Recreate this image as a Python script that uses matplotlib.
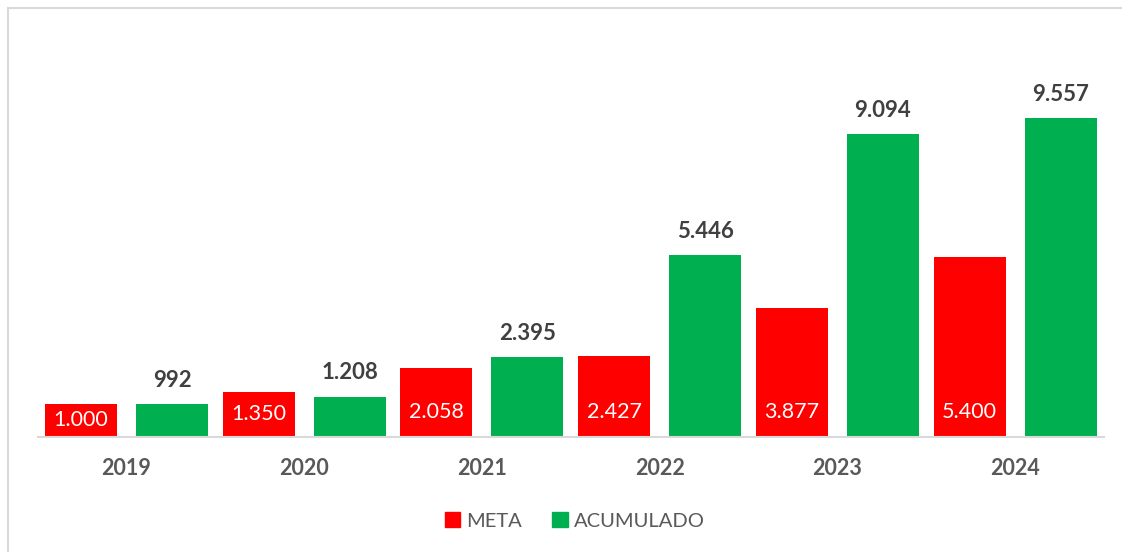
import matplotlib.pyplot as plt
from matplotlib.lines import Line2D
from matplotlib.patches import Patch
import numpy as np

plt.rcParams["font.family"] = ["Lato", "DejaVu Sans"]

# data
years = ["2019", "2020", "2021", "2022", "2023", "2024"]
meta = [1000, 1350, 2058, 2427, 3877, 5400]
acumulado = [992, 1208, 2395, 5446, 9094, 9557]

red = "#FF0000"
green = "#00B050"


def fmt(v):
    return f"{v:,}".replace(",", ".")


W, H = 1122, 552
fig = plt.figure(figsize=(W / 100, H / 100), dpi=100)
ax = fig.add_axes([37.6 / W, (H - 437) / H, (1104 - 37.6) / W, 400 / H])

x = np.arange(len(years))
bw = 0.405
off = 0.256
ax.bar(x - off, meta, bw, color=red, label="META")
ax.bar(x + off, acumulado, bw, color=green, label="ACUMULADO")

# META labels inside the bar, near the base
for xi, v in zip(x, meta):
    ax.text(xi - off, min(v / 2, 765), fmt(v), ha="center", va="center",
            color="white", fontsize=15.5)
# ACUMULADO labels above the bar
for xi, v in zip(x, acumulado):
    ax.text(xi + off, v + 400, fmt(v), ha="center", va="bottom",
            color="#404040", fontsize=16, fontweight="bold")

ax.set_xlim(-0.5, len(years) - 0.5)
ax.set_ylim(0, 12000)
ax.set_xticks(x)
ax.set_xticklabels(years, fontsize=15.5, fontweight="bold", color="#595959")
ax.tick_params(axis="x", length=0, pad=15)
ax.set_yticks([])
for s in ["top", "right", "left"]:
    ax.spines[s].set_visible(False)
ax.spines["bottom"].set_color("#D9D9D9")
ax.spines["bottom"].set_linewidth(1.5)

handles = [Patch(color=red, label="META"), Patch(color=green, label="ACUMULADO")]
leg = fig.legend(handles=handles, loc="center", bbox_to_anchor=(575 / W, 1 - 521 / H),
                 ncol=2, frameon=False, fontsize=14.5, handlelength=0.75,
                 handleheight=0.75, handletextpad=0.3, columnspacing=1.5)
for t in leg.get_texts():
    t.set_color("#595959")

# chart border (left and top edges visible)
fig.add_artist(Line2D([7.5 / W, 7.5 / W], [0, 1 - 7.5 / H], transform=fig.transFigure,
                      color="#D9D9D9", lw=1.5))
fig.add_artist(Line2D([7.5 / W, 1], [1 - 7.5 / H, 1 - 7.5 / H], transform=fig.transFigure,
                      color="#D9D9D9", lw=1.5))

fig.savefig("out.png", dpi=100)
